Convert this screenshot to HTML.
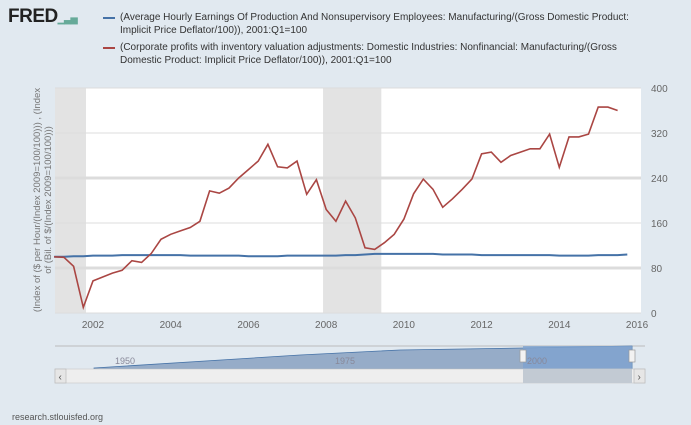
<!DOCTYPE html>
<html><head><meta charset="utf-8"><style>
body{margin:0;background:#e1e9f0;font-family:"Liberation Sans",sans-serif;}
#wrap{position:relative;width:691px;height:425px;overflow:hidden;background:#e1e9f0}
.leg{position:absolute;left:120px;font-size:10px;color:#333;line-height:13px}
</style></head><body>
<div id="wrap">
<div style="position:absolute;left:8px;top:6px;font-weight:bold;font-size:19px;color:#222;letter-spacing:-0.5px">FRED<span style="font-size:9px;color:#6a9">▁▃▅</span></div>
<div class="leg" style="top:11px"><span style="position:absolute;left:-17px;top:6px;width:12px;height:2px;background:#4572a7"></span>(Average Hourly Earnings Of Production And Nonsupervisory Employees: Manufacturing/(Gross Domestic Product:<br>Implicit Price Deflator/100)), 2001:Q1=100</div>
<div class="leg" style="top:41px"><span style="position:absolute;left:-17px;top:6px;width:12px;height:2px;background:#aa4643"></span>(Corporate profits with inventory valuation adjustments: Domestic Industries: Nonfinancial: Manufacturing/(Gross<br>Domestic Product: Implicit Price Deflator/100)), 2001:Q1=100</div>
<div style="position:absolute;left:12px;top:412px;font-size:9px;color:#555">research.stlouisfed.org</div>
<svg id="svg" width="691" height="425" style="position:absolute;left:0;top:0"></svg>
</div>
<script>
const yTicks=[0,80,160,240,320,400];
const xTicks=[2002,2004,2006,2008,2010,2012,2014,2016];
const recessions=[[2001.0,2001.82],[2007.92,2009.42]];
const profitStart=2001.0;
const profits=[100,99,83,10,57,64,71,76,93,90,106,131,140,146,152,163,217,213,222,240,255,270,300,260,258,270,211,237,184,163,199,169,116,113,125,140,167,212,238,220,188,203,220,238,283,286,268,280,286,292,292,318,259,313,313,318,366,366,360];
const earnings=[100,100,101,101,102,102,102,103,103,103,103,103,103,103,102,102,102,102,102,102,101,101,101,101,102,102,102,102,102,102,103,103,104,105,105,105,105,105,105,105,104,104,104,104,103,103,103,103,103,103,103,103,102,102,102,102,103,103,103,104];
const NS="http://www.w3.org/2000/svg",svg=document.getElementById('svg');
const L=55,R=641,T=88,B=313;
const x=yr=>93+(yr-2002)*38.86;
const y=v=>B-(v/400)*(B-T);
function mk(t,a,p){const e=document.createElementNS(NS,t);for(const k in a)e.setAttribute(k,a[k]);(p||svg).appendChild(e);return e;}
let bg=mk('rect',{x:L,y:T,width:R-L,height:B-T,fill:'#fff'});


recessions.forEach(r=>{let e=mk('rect',{x:Math.max(L,x(r[0])),y:T,width:x(r[1])-Math.max(L,x(r[0])),height:B-T,fill:'#e3e3e3'});

});
yTicks.forEach(v=>{let g=mk('line',{x1:L,x2:R,y1:y(v),y2:y(v),stroke:'#dcdcdc','stroke-width':(v==80||v==240)?3:1});


let t=mk('text',{x:R+10,y:y(v)+4,'font-size':10,fill:'#666'});t.textContent=v;

});
xTicks.forEach(v=>{let t=mk('text',{x:x(v),y:B+15,'font-size':10,fill:'#666','text-anchor':'middle'});t.textContent=v;

});
let yt=mk('text',{transform:'translate(40,200) rotate(-90)','font-size':9.5,fill:'#777','text-anchor':'middle'});
yt.textContent='(Index of ($ per Hour/(Index 2009=100/100))) , (Index';


let yt2=mk('text',{transform:'translate(51,200) rotate(-90)','font-size':9.5,fill:'#777','text-anchor':'middle'});
yt2.textContent='of (Bil. of $/(Index 2009=100/100)))';


const ptsE=earnings.map((v,i)=>x(2001.0+i/4).toFixed(1)+','+y(v).toFixed(1)).join(' ');
let le=mk('polyline',{points:ptsE,fill:'none',stroke:'#4572a7','stroke-width':2});


const ptsP=profits.map((v,i)=>x(profitStart+i/4).toFixed(1)+','+y(v).toFixed(1)).join(' ');
let lp=mk('polyline',{points:ptsP,fill:'none',stroke:'#aa4643','stroke-width':1.6});


let nl=mk('line',{x1:L,x2:645,y1:346,y2:346,stroke:'#bbb'});


let na=mk('polygon',{points:'94,368 300,355 400,350 523,348 632,346 632,369 94,369',fill:'#96acc8',stroke:'#4572a7','stroke-width':0.8});


let ns=mk('rect',{x:523,y:346,width:109,height:23,fill:'#7ea2cf',opacity:0.8});


[['1950',115],['1975',335],['2000',527]].forEach(a=>{let t=mk('text',{x:a[1],y:364,'font-size':9,fill:'#889'});t.textContent=a[0];

});
[523,632].forEach(h=>{let e=mk('rect',{x:h-3,y:350,width:6,height:12,fill:'#f2f2f2',stroke:'#999','stroke-width':0.7});

});
let sb=mk('rect',{x:L,y:369,width:590,height:14,fill:'#eee',stroke:'#ccc','stroke-width':0.7});


let th=mk('rect',{x:523,y:369,width:109,height:14,fill:'#c2cad3'});


[[L,'‹'],[634,'›']].forEach(a=>{let b=mk('rect',{x:a[0],y:369,width:11,height:14,fill:'#e6e6e6',stroke:'#bbb','stroke-width':0.7});


let t=mk('text',{x:a[0]+3.5,y:380,'font-size':10,fill:'#555'});t.textContent=a[1];

});
</script>
</body></html>
